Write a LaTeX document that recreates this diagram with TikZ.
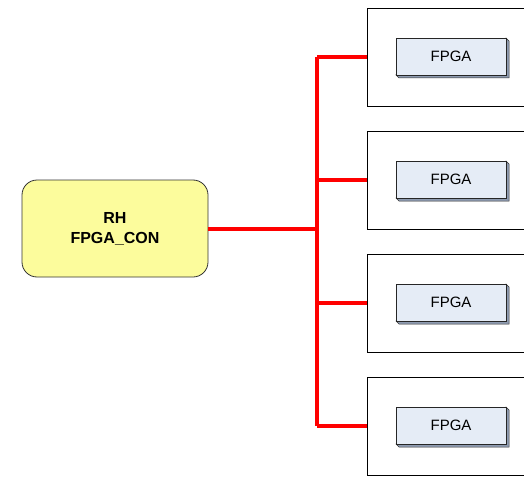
\documentclass[tikz,border=0pt]{standalone}
\usepackage{fontspec}
\setmainfont{Liberation Sans}
\definecolor{conyellow}{HTML}{FCFC9C}
\definecolor{fpgafill}{HTML}{E5ECF6}
\definecolor{fpgaside}{HTML}{8E9BB0}
\definecolor{busred}{HTML}{FF0000}
\begin{document}
\begin{tikzpicture}[x=1pt,y=-1pt,
  ctrl/.style={draw=black!80, line width=0.8pt, fill=conyellow, rounded corners=15pt,
    minimum width=186pt, minimum height=97pt, align=center,
    font=\fontsize{16}{20}\selectfont\bfseries},
  board/.style={draw=black, line width=0.8pt, fill=white, minimum width=170pt,
    minimum height=98pt, anchor=north west, inner sep=0pt},
  chip/.style={draw=black!85, line width=0.7pt, fill=fpgafill, minimum width=110pt,
    minimum height=37pt, inner sep=0pt, font=\fontsize{15}{18}\selectfont},
  bus/.style={draw=busred, line width=3.5pt}]
\useasboundingbox (0,0) rectangle (524,476);
\begin{scope}
\clip (0,0) rectangle (524,476);
% controller on the left
\node[ctrl] (ctl) at (115,228.5) {RH\\FPGA\_CON};
% four boards, each holding one FPGA
\foreach \i/\y in {1/8,2/131,3/254,4/377}{
  \node[board] (b\i) at (367,\y) {};
  \coordinate (p\i) at (367,\y+49);
  % raised edge of the chip, below and to the right
  \fill[fpgaside, draw=black!80, line width=0.5pt]
    (396,\y+67) -- (399,\y+70) -- (509,\y+70) -- (509,\y+33) -- (506,\y+30)
    -- (506,\y+67) -- cycle;
  \node[chip] (f\i) at (451,\y+48.5) {FPGA};
}
% red bus from the controller to each board
\coordinate (j) at (317,229);
\coordinate (top) at (317,57);
\coordinate (bot) at (317,426);
\draw[bus] (ctl.east |- j) -- (j);
\draw[bus] (top) -- (bot);
\foreach \i in {1,...,4}{
  \draw[bus] (p\i -| j) -- (p\i);
}
\end{scope}
\end{tikzpicture}
\end{document}
